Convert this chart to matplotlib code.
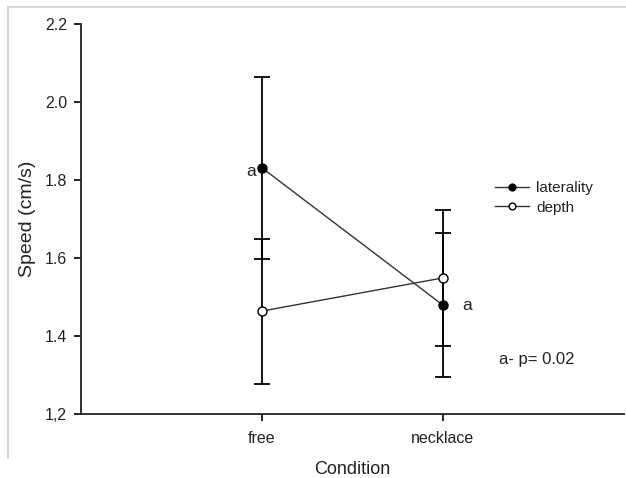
import matplotlib
matplotlib.use("Agg")
import matplotlib.pyplot as plt
from matplotlib.lines import Line2D

plt.rcParams['font.family'] = ['Liberation Sans', 'DejaVu Sans']

conditions = ["free", "necklace"]
laterality_mean = [1.831, 1.479]
laterality_err = [0.233, 0.185]
depth_mean = [1.464, 1.549]
depth_err = [0.186, 0.174]
yticks = [1.2, 1.4, 1.6, 1.8, 2.0, 2.2]
ytick_labels = ["1,2", "1.4", "1.6", "1.8", "2.0", "2.2"]

fig = plt.figure(figsize=(6.26, 4.78), dpi=100)
ax = fig.add_axes([81/626, 1-414/478, (624-81)/626, (414-24)/478])

x = [1, 2]
tc = '#222222'
ax.errorbar(x, laterality_mean, yerr=laterality_err, fmt='none', ecolor='black',
            elinewidth=1.3, capsize=6, capthick=1.3, zorder=2)
ax.errorbar(x, depth_mean, yerr=depth_err, fmt='none', ecolor='black',
            elinewidth=1.3, capsize=6, capthick=1.3, zorder=2)
ax.plot(x, laterality_mean, '-o', color='#333333', lw=1.0, mfc='black', mec='black',
        ms=6.5, label='laterality', zorder=3)
ax.plot(x, depth_mean, '-o', color='#333333', lw=1.0, mfc='white', mec='black',
        ms=6.5, mew=1.0, label='depth', zorder=3)

ax.set_xlim(0, 3)
ax.set_ylim(1.2, 2.2)
ax.set_xticks(x)
ax.set_xticklabels(conditions)
ax.set_yticks(yticks)
ax.set_yticklabels(ytick_labels)
ax.tick_params(direction='out', length=5, width=1.2, labelsize=11.5, colors='black', labelcolor=tc)
ax.tick_params(axis='x', pad=7)
ax.tick_params(axis='y', pad=5)
for s in ['top', 'right']:
    ax.spines[s].set_visible(False)
for s in ['left', 'bottom']:
    ax.spines[s].set_linewidth(1.3)
    ax.spines[s].set_color('#222222')

ax.set_xlabel('Condition', fontsize=13, color=tc, labelpad=11)
ax.set_ylabel('Speed (cm/s)', fontsize=14, color=tc, labelpad=6)

ax.text(0.965, laterality_mean[0] - 0.008, 'a', fontsize=12.5, color=tc, ha='right', va='center')
ax.text(2.105, laterality_mean[1], 'a', fontsize=12.5, color=tc, ha='left', va='center')
ax.text(2.31, 1.34, 'a- p= 0.02', fontsize=12, color=tc, ha='left', va='center')

leg = ax.legend(loc='upper left', bbox_to_anchor=(2.287, 1.797), bbox_transform=ax.transData,
                frameon=False, fontsize=11, handlelength=2.2, handletextpad=0.5,
                labelspacing=0.36, borderaxespad=0, borderpad=0, markerscale=0.75)
for t in leg.get_texts():
    t.set_color(tc)

# light gray frame of the original image
fig.add_artist(Line2D([8/626, 1], [1-7/478, 1-7/478], color='#d0d0d0', lw=1.2, transform=fig.transFigure))
fig.add_artist(Line2D([8/626, 8/626], [1-7/478, 1-458/478], color='#d0d0d0', lw=1.2, transform=fig.transFigure))

fig.savefig('out.png', dpi=100)
